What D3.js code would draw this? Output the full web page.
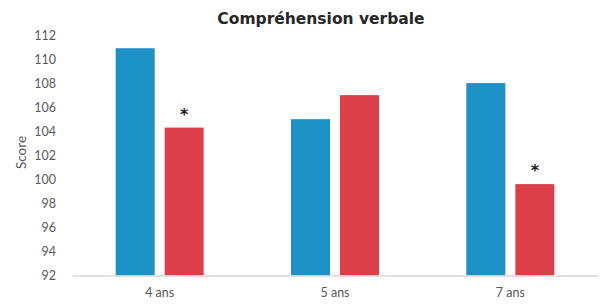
<!DOCTYPE html>
<html><head><meta charset="utf-8">
<script src="https://cdn.jsdelivr.net/npm/d3@7"></script>
<style>body{margin:0;background:#fff}</style>
</head><body>
<svg id="c" width="605" height="305"></svg>
<script>
const categories = ["4 ans", "5 ans", "7 ans"];
const seriesNames = ["A", "B"];
const blueValues = [110.9, 105, 108];
const redValues = [104.3, 107, 99.6];
const significance = [["", "*"], ["", ""], ["", "*"]];
const yTicks = [92, 94, 96, 98, 100, 102, 104, 106, 108, 110, 112];
const colors = ["#1b91c6", "#dc3f4a"];

const svg = d3.select("#c");
const m = {left: 72, right: 7, top: 35, bottom: 29.5};
const W = 605, H = 305;
const x = d3.scaleBand().domain(categories).range([m.left, W - m.right]);
const y = d3.scaleLinear().domain([92, 112]).range([H - m.bottom, m.top]);
const barW = 39, gap = 10;

const data = categories.map((c, i) => ({c, vals: [blueValues[i], redValues[i]], sig: significance[i]}));

svg.append("text").attr("x", 321).attr("y", 23.5).attr("text-anchor", "middle")
  .attr("font-family", "DejaVu Sans").attr("font-weight", "bold").attr("font-size", 15.5)
  .attr("fill", "#262626").text("Compréhension verbale");

// y axis labels
const yAxis = d3.axisLeft(y).tickValues(yTicks).tickSize(0).tickPadding(16);
const gy = svg.append("g").attr("transform", `translate(${m.left},0)`).call(yAxis);
gy.select(".domain").remove();
gy.selectAll("text").attr("font-family", "Lato").attr("font-size", 12.5).attr("fill", "#595959");

svg.append("text").attr("transform", `translate(26,152.5) rotate(-90)`)
  .attr("text-anchor", "middle").attr("font-family", "Lato").attr("font-size", 13.5)
  .attr("fill", "#595959").text("Score");

const groups = svg.append("g").selectAll("g").data(data).join("g")
  .attr("transform", d => `translate(${x(d.c) + (x.bandwidth() - (barW * 2 + gap)) / 2},0)`);

groups.selectAll("rect").data(d => d.vals.map((v, j) => ({v, j}))).join("rect")
  .attr("x", d => d.j * (barW + gap)).attr("width", barW)
  .attr("y", d => y(d.v)).attr("height", d => y(92) - y(d.v))
  .attr("fill", d => colors[d.j]);

groups.selectAll("text.sig").data(d => d.vals.map((v, j) => ({v, j, s: d.sig[j]}))).join("text")
  .attr("class", "sig")
  .attr("x", d => d.j * (barW + gap) + barW / 2).attr("y", d => y(d.v) - 8)
  .attr("text-anchor", "middle").attr("font-family", "DejaVu Sans").attr("font-weight", "bold")
  .attr("font-size", 16).attr("fill", "#1a1a1a").text(d => d.s);

// x axis
const xAxis = d3.axisBottom(x).tickSize(0).tickPadding(13);
const gx = svg.append("g").attr("transform", `translate(0,${y(92)})`).call(xAxis);
gx.select(".domain").attr("stroke", "#d9d9d9").attr("stroke-width", 1.5);
gx.selectAll("text").attr("font-family", "Lato").attr("font-size", 12.5).attr("fill", "#595959");
</script>
</body></html>
